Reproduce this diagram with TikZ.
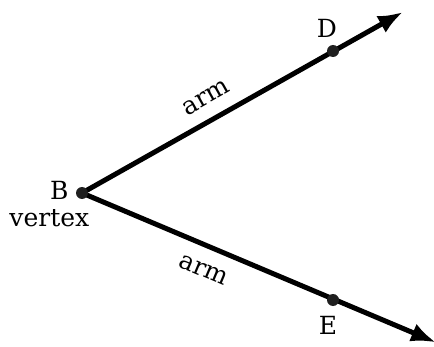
\documentclass[tikz,border=0pt]{standalone}
\usepackage{fontspec}
\setmainfont{DejaVu Serif}
\usetikzlibrary{arrows.meta, positioning}

\begin{document}
\begin{tikzpicture}[x=1pt, y=1pt,
        >={Latex[length=25pt,width=19pt]},   % Pfeilspitzen
        schenkel/.style={line width=5pt},
        punkt/.style={circle, fill=black!88, inner sep=0pt, minimum size=12pt},
        font=\fontsize{25}{30}\selectfont]
        % Bildbereich
        \useasboundingbox (0,0) rectangle (434,346);
        % Punkte festlegen
        \coordinate (B) at (82,153);
        \coordinate (D) at (333,295);
        \coordinate (E) at (333,46);
        \coordinate (Dend) at (403,334);
        \coordinate (Eend) at (436,3.6);
        % Schenkel zeichnen
        \draw[schenkel,->] (B) -- node[pos=0.42, sloped, above=9pt] (armD) {arm} (Dend);
        \draw[schenkel,->] (B) -- node[pos=0.37, sloped, below=11pt] (armE) {arm} (Eend);
        % Punkte zeichnen
        \node[punkt] (Bdot) at (B) {};
        \node[punkt] (Ddot) at (D) {};
        \node[punkt] (Edot) at (E) {};
        % Beschriftung
        \node (Blab) [left=10pt of B, yshift=3pt] {B};
        \node (vertex) [below=3pt of Blab, xshift=-10pt] {vertex};
        \node (Dlab) [above=10pt of D, xshift=-6pt] {D};
        \node (Elab) [below=13pt of E, xshift=-5pt] {E};
\end{tikzpicture}
\end{document}
